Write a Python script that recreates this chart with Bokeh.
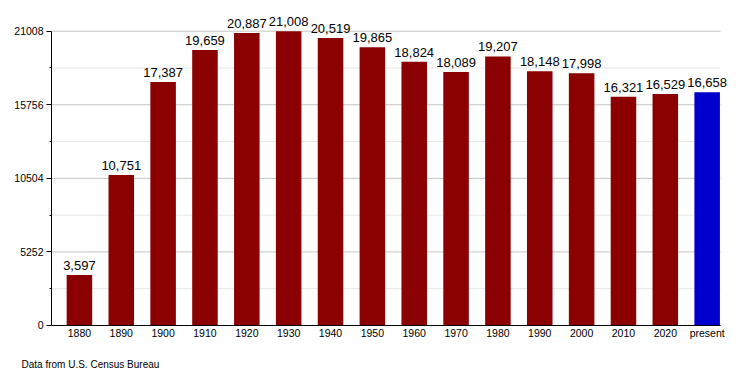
from bokeh.plotting import figure
from bokeh.models import ColumnDataSource, Range1d, FixedTicker, LabelSet, Label
from bokeh.core.properties import value
from bokeh.embed import file_html
from bokeh.resources import INLINE

years = ["1880", "1890", "1900", "1910", "1920", "1930", "1940", "1950",
         "1960", "1970", "1980", "1990", "2000", "2010", "2020", "present"]
population = [3597, 10751, 17387, 19659, 20887, 21008, 20519, 19865,
              18824, 18089, 19207, 18148, 17998, 16321, 16529, 16658]
major_ticks = [0, 5252, 10504, 15756, 21008]
minor_ticks = [2626, 7878, 13130, 18382]
bar_color = "#8B0000"
present_color = "#0000CC"
footer = "Data from U.S. Census Bureau"

X_LO, X_HI = -0.667, 15.32      # extent of the drawn plot area
Y_LO, Y_HI = 0, 21008

xs = list(range(len(years)))
colors = [bar_color] * (len(years) - 1) + [present_color]
source = ColumnDataSource(dict(
    x=xs, top=population, color=colors,
    label=[f"{v:,}" for v in population],
))

FONT = "Liberation Sans"

p = figure(width=745, height=372, output_backend="svg", toolbar_location=None,
           x_range=Range1d(-1.8857, 15.916), y_range=Range1d(-3355, 23199),
           min_border_left=0, min_border_right=0, min_border_top=0,
           min_border_bottom=0)
p.outline_line_color = None
p.background_fill_color = "white"
p.xgrid.visible = False
p.ygrid.visible = False

# grid lines over the plot area
n_min = len(minor_ticks)
p.segment(x0=[X_LO] * n_min, x1=[X_HI] * n_min, y0=minor_ticks, y1=minor_ticks,
          line_color="#E6E6E6", line_width=1)
n_maj = len(major_ticks)
p.segment(x0=[X_LO] * n_maj, x1=[X_HI] * n_maj, y0=major_ticks, y1=major_ticks,
          line_color="#C4C4C4", line_width=1)

p.vbar(x="x", top="top", width=0.61, bottom=0, color="color", source=source,
       line_color=None)

p.add_layout(LabelSet(x="x", y="top", text="label", source=source,
                      text_align="center", text_baseline="alphabetic",
                      y_offset=5, text_font=value(FONT),
                      text_font_size=value("13px"), text_color="black"))

# x axis
xa = p.xaxis[0]
xa.fixed_location = Y_LO
xa.bounds = (X_LO, X_HI)
xa.ticker = FixedTicker(ticks=xs)
xa.major_label_overrides = {i: y for i, y in enumerate(years)}
xa.major_tick_line_color = None
xa.minor_tick_line_color = None
xa.major_tick_out = 0
xa.minor_tick_out = 0
xa.major_label_standoff = 2
xa.major_label_text_font = FONT
xa.major_label_text_font_size = "10.5px"
xa.major_label_text_color = "black"
xa.axis_line_color = "black"

# y axis
ya = p.yaxis[0]
ya.fixed_location = X_LO
ya.bounds = (Y_LO, Y_HI)
ya.ticker = FixedTicker(ticks=major_ticks, minor_ticks=minor_ticks)
ya.major_tick_out = 5
ya.major_tick_in = 0
ya.minor_tick_out = 2
ya.minor_tick_in = 0
ya.major_label_standoff = 3
ya.major_label_text_font = FONT
ya.major_label_text_font_size = "10.5px"
ya.major_label_text_color = "black"
ya.axis_line_color = "black"
ya.major_tick_line_color = "black"
ya.minor_tick_line_color = "black"

p.add_layout(Label(x=21, y=8, x_units="screen", y_units="screen",
                   text=footer, text_font=FONT, text_font_size="10px",
                   text_baseline="middle", text_align="left",
                   text_color="black"))

open("out.html", "w").write(file_html(p, INLINE))
